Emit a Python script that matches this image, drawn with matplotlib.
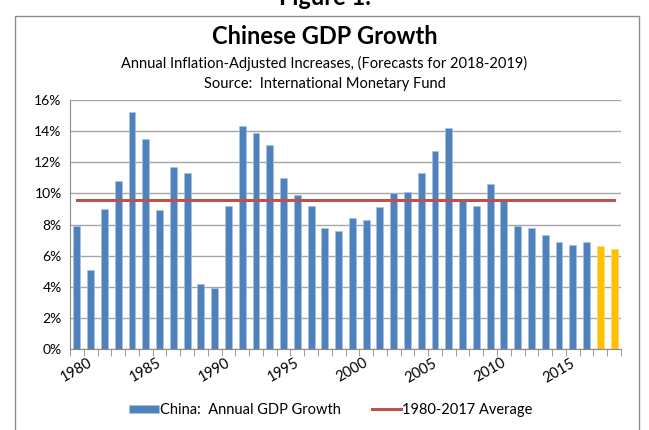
import numpy as np
import matplotlib.pyplot as plt
from matplotlib.patches import Rectangle

years = list(range(1980, 2020))
growth = [7.9, 5.1, 9.0, 10.8, 15.2, 13.5, 8.9, 11.7, 11.3, 4.2,
          3.9, 9.2, 14.3, 13.9, 13.1, 11.0, 9.9, 9.2, 7.8, 7.6,
          8.4, 8.3, 9.1, 10.0, 10.1, 11.3, 12.7, 14.2, 9.6, 9.2,
          10.6, 9.5, 7.9, 7.8, 7.3, 6.9, 6.7, 6.9, 6.6, 6.4]
forecast_years = [2018, 2019]
average = 9.55
tick_years = [1980, 1985, 1990, 1995, 2000, 2005, 2010, 2015]

plt.rcParams['font.family'] = ['Lato', 'DejaVu Sans']

fig = plt.figure(figsize=(6.49, 4.30), dpi=100)
fig.patches.append(Rectangle((15 / 649, -0.1), 624 / 649, 1.1 - 16 / 430,
                             transform=fig.transFigure, fill=False,
                             edgecolor='#8c8c8c', linewidth=1.0))

ax = fig.add_axes([70 / 649, 1 - 349 / 430, 551 / 649, 249 / 430])

x = np.arange(len(years))
colors = ['#ffc000' if y in forecast_years else '#4f81bd' for y in years]
bars = ax.bar(x, growth, width=0.5, color=colors, edgecolor='#a6c1e3',
              linewidth=0.5, zorder=2, label='China:  Annual GDP Growth')
for b, y in zip(bars, years):
    if y in forecast_years:
        b.set_edgecolor('#ffd966')
line, = ax.plot(x, [average] * len(x), color='#c0504d', linewidth=2.2,
                zorder=3, label='1980-2017 Average')

ax.set_xlim(-0.5, len(years) - 0.5)
ax.set_ylim(0, 16)
ax.set_yticks(range(0, 17, 2))
ax.set_yticklabels([f'{v}%' for v in range(0, 17, 2)], fontsize=10)
ax.yaxis.grid(True, color='#a6a6a6', linewidth=1.0, zorder=0)
ax.tick_params(axis='y', length=0, pad=6)

ax.set_xticks(np.arange(len(years) + 1) - 0.5, minor=True)
ax.set_xticks([years.index(t) for t in tick_years])
ax.set_xticklabels([str(t) for t in tick_years], rotation=30, fontsize=10.5,
                   ha='center')
ax.tick_params(axis='x', which='major', length=0, pad=5)
ax.tick_params(axis='x', which='minor', length=5, color='#8c8c8c')

for side in ['top', 'right']:
    ax.spines[side].set_visible(False)
for side in ['left', 'bottom']:
    ax.spines[side].set_color('#8c8c8c')

fig.text(0.5, 1.005, 'Figure 1.', ha='center', va='center', fontsize=17,
         fontweight='bold')
fig.text(0.5, 1 - 37 / 430, 'Chinese GDP Growth', ha='center', va='center',
         fontsize=17, fontweight='bold')
fig.text(0.5, 1 - 63 / 430,
         'Annual Inflation-Adjusted Increases, (Forecasts for 2018-2019)',
         ha='center', va='center', fontsize=10.5)
fig.text(0.5, 1 - 84 / 430, 'Source:  International Monetary Fund',
         ha='center', va='center', fontsize=10.5)

fig.legend([bars[0], line], ['China:  Annual GDP Growth', '1980-2017 Average'],
           loc='center', bbox_to_anchor=(0.51, 1 - 410 / 430), ncol=2,
           frameon=False, fontsize=10.5, handlelength=2.0, handleheight=0.5,
           handletextpad=0.1, columnspacing=2.1)

fig.savefig('out.png', dpi=100)
